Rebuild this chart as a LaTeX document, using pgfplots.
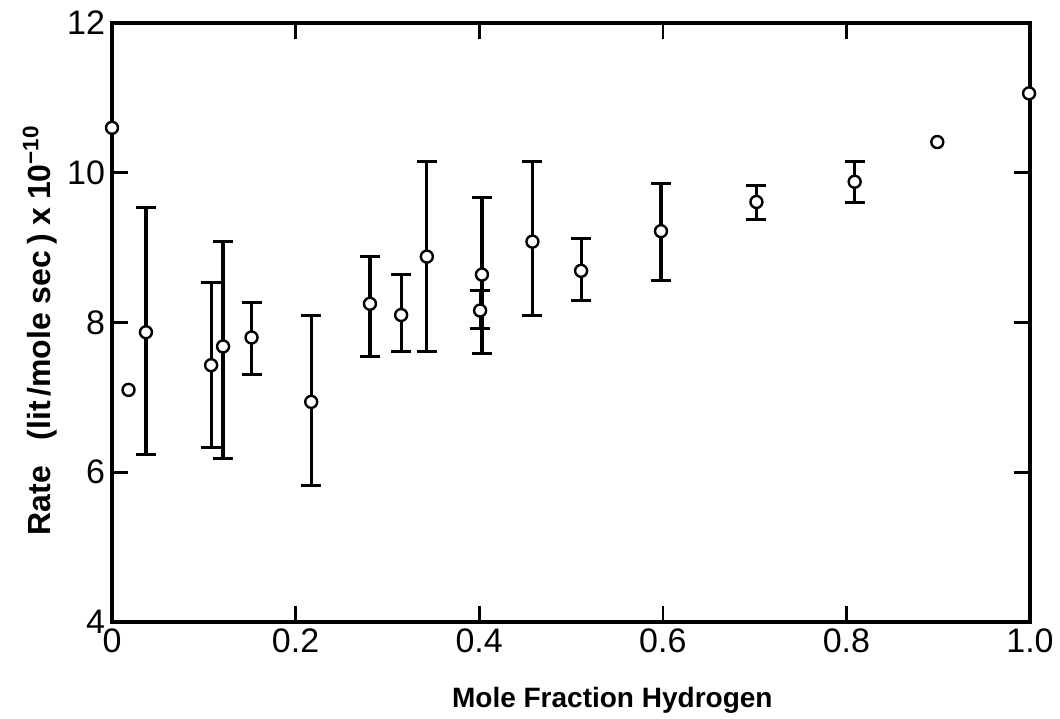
\documentclass[border=0pt]{standalone}
\usepackage{fontspec}
\setmainfont{Liberation Sans}
\usepackage{pgfplots}
\usepackage{pgfplotstable}
\pgfplotsset{compat=1.18}
\pgfplotstableread{
x y top bot
0.037 7.87 9.54 6.24
0.108 7.43 8.54 6.33
0.121 7.68 9.08 6.18
0.152 7.80 8.27 7.30
0.217 6.94 8.09 5.82
0.281 8.25 8.88 7.55
0.315 8.10 8.64 7.61
0.343 8.88 10.15 7.61
0.403 8.64 9.67 7.58
0.401 8.16 8.43 7.92
0.458 9.08 10.15 8.10
0.511 8.69 9.12 8.30
0.598 9.22 9.85 8.56
0.702 9.61 9.83 9.37
0.809 9.88 10.15 9.60
}\bars
\pgfplotstableread{
x y
0.000 10.60
0.018 7.10
0.037 7.87
0.108 7.43
0.121 7.68
0.152 7.80
0.217 6.94
0.281 8.25
0.315 8.10
0.343 8.88
0.403 8.64
0.401 8.16
0.458 9.08
0.511 8.69
0.598 9.22
0.702 9.61
0.809 9.88
0.899 10.41
0.999 11.06
}\pts
\begin{document}
\begin{tikzpicture}
\useasboundingbox (-56pt,-48pt) rectangle (474pt,311pt);
\begin{axis}[
  at={(0,0)}, anchor=south west,
  scale only axis, width=459pt, height=299.5pt,
  xmin=0, xmax=1, ymin=4, ymax=12,
  xtick={0,0.2,0.4,0.6,0.8,1.0}, xticklabels={0,0.2,0.4,0.6,0.8,1.0},
  ytick={4,6,8,10,12}, yticklabels={4,6,8,10,12},
  tick align=inside, major tick length=8pt,
  axis line style={line width=1.8pt},
  tick style={line width=1.3pt, black},
  ticklabel style={font=\fontsize{17}{17}\selectfont},
  label style={font=\bfseries\fontsize{14}{14}\selectfont},
  xlabel={Mole Fraction Hydrogen},
  ylabel={Rate\hspace{0.8em}(lit\hspace{0.15em}/mole sec\hspace{0.2em})\hspace{0.25em}x\hspace{0.25em}10\textsuperscript{−10}},
  xlabel style={at={(axis description cs:0.545,-0.13)}, anchor=center},
  ylabel style={at={(axis description cs:-0.0784,0.487)}, anchor=center, font=\bfseries\fontsize{16}{16}\selectfont},
  clip=false,
]
\addplot[draw=none, mark=none,
  error bars/.cd, y dir=both, y explicit,
  error bar style={line width=1.6pt, black},
  error mark options={rotate=90, mark size=5pt, line width=1.5pt, black}]
  table[x=x, y=y, y error plus expr=\thisrow{top}-\thisrow{y}, y error minus expr=\thisrow{y}-\thisrow{bot}] {\bars};
\addplot[only marks, mark=*, mark size=3pt, mark options={fill=white, draw=black, line width=1.2pt}]
  table[x=x, y=y] {\pts};
\end{axis}
\end{tikzpicture}
\end{document}
